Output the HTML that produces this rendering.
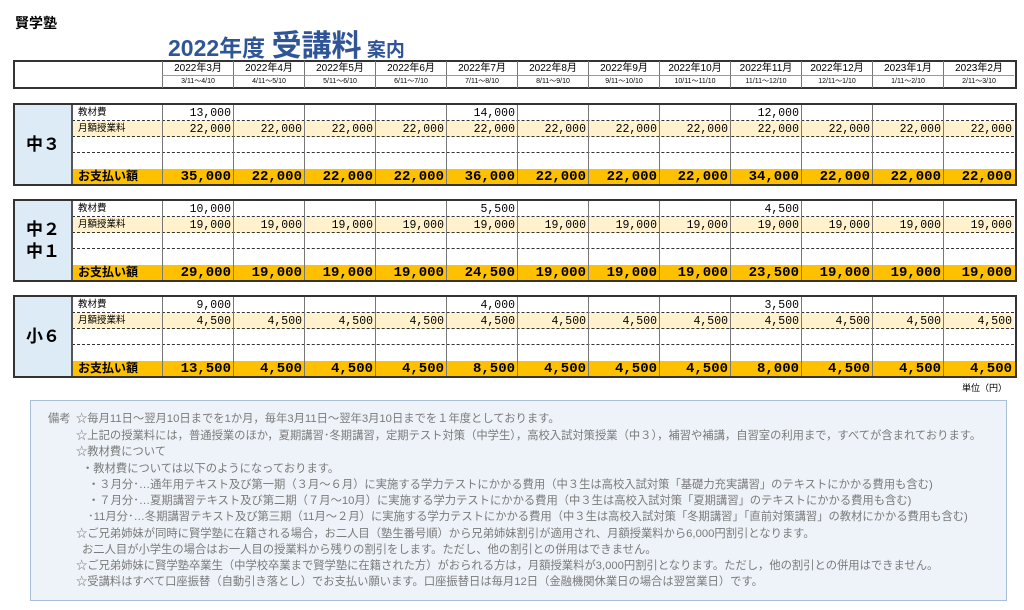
<!DOCTYPE html>
<html><head><meta charset="utf-8">
<style>
body{margin:0;width:1024px;height:610px;background:#fff;position:relative;overflow:hidden;font-family:"Liberation Sans","Noto Sans CJK JP",sans-serif;}
.a{position:absolute;box-sizing:border-box;}
.num{font-family:"Liberation Mono","Noto Sans CJK JP",monospace;text-align:right;padding-right:2px;white-space:nowrap;}
.note{position:absolute;white-space:nowrap;font-size:11.3px;color:#7a7a7a;}
</style></head><body>
<div class="a" style="left:15px;top:13px;font-size:14px;font-weight:bold;">賢学塾</div>
<div class="a" style="left:168px;top:21px;color:#2f5597;font-weight:bold;white-space:nowrap;">
<span style="font-size:23px;">2022年度 </span><span style="font-size:30px;">受講料</span><span style="font-size:19px;"> 案内</span></div>
<div id="root"></div>
<div class="a" style="left:962px;top:381px;font-size:9px;">単位（円）</div>
<div class="a" style="left:30px;top:400px;width:977px;height:201px;background:#eef3f9;border:1px solid #a9bfd6;"></div>
<div class="note" style="left:48px;top:410px;">備考</div>
<div class="note" style="left:76px;top:410px;">☆毎月11日～翌月10日までを1か月，毎年3月11日～翌年3月10日までを１年度としております。</div>
<div class="note" style="left:76px;top:427px;">☆上記の授業料には，普通授業のほか，夏期講習･冬期講習，定期テスト対策（中学生），高校入試対策授業（中３），補習や補講，自習室の利用まで，すべてが含まれております。</div>
<div class="note" style="left:76px;top:443px;">☆教材費について</div>
<div class="note" style="left:82px;top:460px;">・教材費については以下のようになっております。</div>
<div class="note" style="left:88px;top:476px;">・３月分･…通年用テキスト及び第一期（３月～６月）に実施する学力テストにかかる費用（中３生は高校入試対策「基礎力充実講習」のテキストにかかる費用も含む)</div>
<div class="note" style="left:88px;top:492px;">・７月分･…夏期講習テキスト及び第二期（７月～10月）に実施する学力テストにかかる費用（中３生は高校入試対策「夏期講習」のテキストにかかる費用も含む)</div>
<div class="note" style="left:88px;top:508px;">･11月分･…冬期講習テキスト及び第三期（11月～２月）に実施する学力テストにかかる費用（中３生は高校入試対策「冬期講習」「直前対策講習」の教材にかかる費用も含む)</div>
<div class="note" style="left:76px;top:525px;">☆ご兄弟姉妹が同時に賢学塾に在籍される場合，お二人目（塾生番号順）から兄弟姉妹割引が適用され、月額授業料から6,000円割引となります。</div>
<div class="note" style="left:82px;top:541px;">お二人目が小学生の場合はお一人目の授業料から残りの割引をします。ただし、他の割引との併用はできません。</div>
<div class="note" style="left:76px;top:557px;">☆ご兄弟姉妹に賢学塾卒業生（中学校卒業まで賢学塾に在籍された方）がおられる方は，月額授業料が3,000円割引となります。ただし，他の割引との併用はできません。</div>
<div class="note" style="left:76px;top:573px;">☆受講料はすべて口座振替（自動引き落とし）でお支払い願います。口座振替日は毎月12日（金融機関休業日の場合は翌営業日）です。</div>
<script>
const months=["2022年3月","2022年4月","2022年5月","2022年6月","2022年7月","2022年8月","2022年9月","2022年10月","2022年11月","2022年12月","2023年1月","2023年2月"];
const ranges=["3/11～4/10","4/11～5/10","5/11～6/10","6/11～7/10","7/11～8/10","8/11～9/10","9/11～10/10","10/11～11/10","11/11～12/10","12/11～1/10","1/11～2/10","2/11～3/10"];
const groupLabels=["中３","中２<br>中１","小６"];
const materials3=[13000,0,0,0,14000,0,0,0,12000,0,0,0];
const tuition3=[22000,22000,22000,22000,22000,22000,22000,22000,22000,22000,22000,22000];
const materials2=[10000,0,0,0,5500,0,0,0,4500,0,0,0];
const tuition2=[19000,19000,19000,19000,19000,19000,19000,19000,19000,19000,19000,19000];
const materials6=[9000,0,0,0,4000,0,0,0,3500,0,0,0];
const tuition6=[4500,4500,4500,4500,4500,4500,4500,4500,4500,4500,4500,4500];
const groups=[[materials3,tuition3],[materials2,tuition2],[materials6,tuition6]];

const root=document.getElementById('root');
const X0=162,CW=71,L=13,R=1014;
const colX=i=>X0+i*CW;
const fmt=v=>v?v.toLocaleString('en-US'):'';
function box(x,y,w,h,css,html){const d=document.createElement('div');d.className='a';d.style.cssText=`left:${x}px;top:${y}px;width:${w}px;height:${h}px;`+css;if(html!==undefined)d.innerHTML=html;root.appendChild(d);return d;}

let h=box(L,60,R-L+3,29,'border:2px solid #333;');


months.forEach((m,i)=>{
 let c=box(colX(i),61,CW,15,'border-left:1px solid #777;border-bottom:1px solid #999;font-size:10px;text-align:center;line-height:15px;white-space:nowrap;',m);
 
 
 let r=box(colX(i),76,CW,12,'border-left:1px solid #777;font-size:7px;text-align:center;line-height:12px;white-space:nowrap;',ranges[i]);
 
 
});

const tops=[103,199,295];
groups.forEach((g,gi)=>{
 const y=tops[gi];
 const mat=g[0],tui=g[1];
 let t=box(L,y,R-L+3,83,'border:2px solid #333;');
 
 
 let lab=box(L+2,y+2,57,79,'background:#ddebf7;border-right:1px solid #555;font-size:17px;font-weight:bold;display:flex;align-items:center;justify-content:center;text-align:center;line-height:22px;',groupLabels[gi]);
 
 
 const ry=[y+2,y+18,y+34,y+50,y+66];
 let yb=box(72,ry[1],R-72,16,'background:#fff2cc;');
 
 
 let ob=box(72,ry[4],R-72+1,15,'background:#ffc000;');
 
 
 for(let k=1;k<4;k++){let d=box(72,ry[k]-1,R-72,1,'border-top:1px dashed #333;');}
 let a=box(78,ry[0],84,16,'font-size:9.5px;line-height:16px;','教材費');
 
 
 let b=box(78,ry[1],84,16,'font-size:9.5px;line-height:16px;','月額授業料');
 
 
 let c=box(78,ry[4],84,15,'font-size:12px;font-weight:bold;line-height:15px;','お支払い額');
 
 
 for(let i=0;i<12;i++){
  let vl=box(colX(i),ry[0],1,79,'background:#777;');
  
  
  let m=box(colX(i),ry[0],CW,16,'font-size:11.5px;line-height:17px;',fmt(mat[i]));m.classList.add('num');
  
  
  let tv=box(colX(i),ry[1],CW,16,'font-size:11.5px;line-height:17px;',fmt(tui[i]));tv.classList.add('num');
  
  
  let tot=box(colX(i),ry[4],CW,15,'font-size:14px;font-weight:bold;line-height:16px;',fmt(mat[i]+tui[i]));tot.classList.add('num');
  
  
 }
 let v0=box(72,ry[0],1,79,'background:#555;');
 
 
});
</script>
</body></html>
